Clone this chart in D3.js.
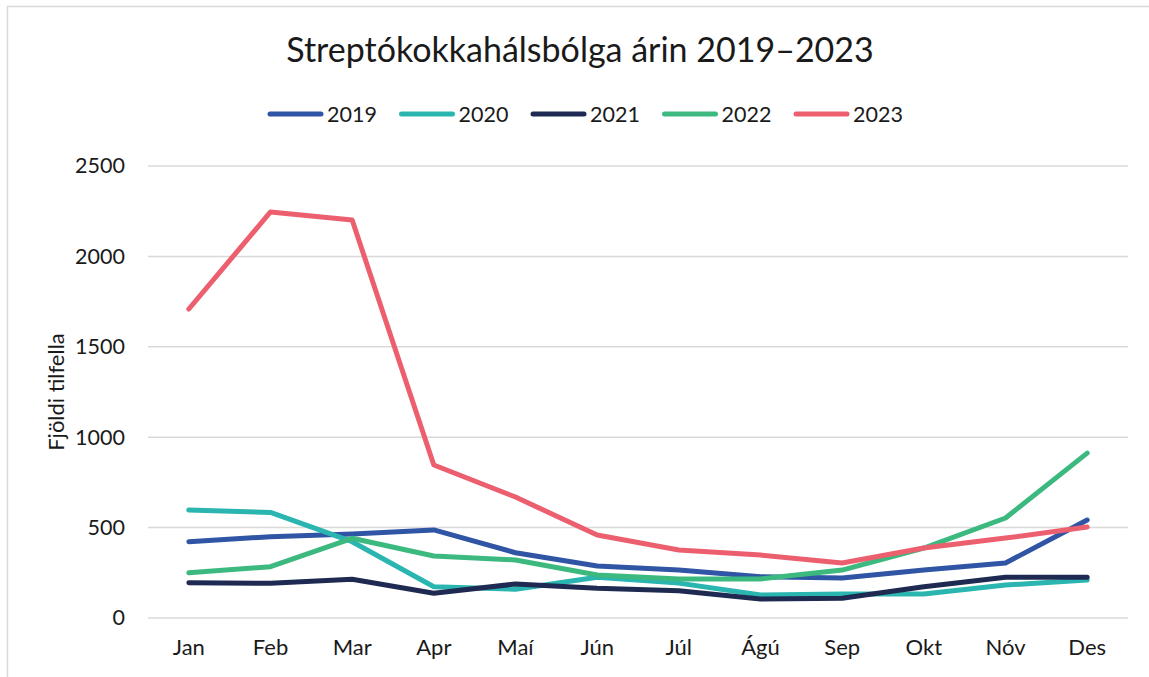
<!DOCTYPE html>
<html>
<head>
<meta charset="utf-8">
<script src="https://cdn.jsdelivr.net/npm/d3@7"></script>
<style>
  body { margin: 0; background: #fff; }
  svg { display: block; font-family: Lato, "Open Sans", sans-serif; }
</style>
</head>
<body>
<div id="chart"></div>
<script>
// Data
const months = ["Jan", "Feb", "Mar", "Apr", "Maí", "Jún", "Júl", "Ágú", "Sep", "Okt", "Nóv", "Des"];
const years = ["2019", "2020", "2021", "2022", "2023"];
const cases2019 = [422, 450, 465, 487, 361, 288, 265, 228, 221, 265, 304, 542];
const cases2020 = [597, 584, 422, 173, 159, 225, 193, 127, 133, 133, 182, 210];
const cases2021 = [195, 192, 214, 137, 188, 164, 151, 105, 109, 173, 225, 225];
const cases2022 = [250, 284, 441, 343, 321, 238, 216, 216, 265, 387, 553, 912];
const cases2023 = [1709, 2246, 2201, 846, 669, 459, 376, 348, 304, 387, 442, 503];
const yTicks = [0, 500, 1000, 1500, 2000, 2500];
const colors = ["#2f55a4", "#2ab5b0", "#1f2a52", "#3cb97f", "#ec5f6e"];

const series = [cases2019, cases2020, cases2021, cases2022, cases2023]
    .map((values, i) => ({ year: years[i], values: values, color: colors[i] }));

const W = 1149, H = 677;
const margin = { top: 166, right: 21, bottom: 59, left: 148 };
const width = W - margin.left - margin.right,
      height = H - margin.top - margin.bottom;
const fontFamily = "Lato, Open Sans, sans-serif";

const svg = d3.select("#chart")
    .append("svg")
    .attr("width", W)
    .attr("height", H);

// Chart frame
svg.append("rect")
    .attr("x", 7.5)
    .attr("y", 6.5)
    .attr("width", W + 10)
    .attr("height", H + 10)
    .attr("fill", "none")
    .attr("stroke", "#d9d9d9")
    .attr("stroke-width", 1.5);

// Title
svg.append("text")
    .attr("x", 580)
    .attr("y", 62)
    .attr("text-anchor", "middle")
    .attr("font-size", 34)
    .attr("fill", "#1a1a1a")
    .text("Streptókokkahálsbólga árin 2019–2023");

const g = svg.append("g")
    .attr("transform", `translate(${margin.left},${margin.top})`);

// Scales
const xScale = d3.scaleBand()
    .domain(months)
    .range([0, width]);

const yScale = d3.scaleLinear()
    .domain([0, 2500])
    .range([height, 0]);

// Gridlines
g.append("g")
    .selectAll("line")
    .data(yTicks)
    .join("line")
    .attr("x1", 0)
    .attr("x2", width)
    .attr("y1", d => yScale(d))
    .attr("y2", d => yScale(d))
    .attr("stroke", "#d9d9d9")
    .attr("stroke-width", 1.5);

// Y axis
const yAxis = g.append("g")
    .call(d3.axisLeft(yScale).tickValues(yTicks).tickFormat(d3.format("d")).tickSize(0).tickPadding(23));
yAxis.select(".domain").remove();
yAxis.selectAll("text")
    .attr("font-size", 21.5)
    .attr("font-family", fontFamily)
    .attr("fill", "#1a1a1a");

// X axis
const xAxis = g.append("g")
    .attr("transform", `translate(0,${height})`)
    .call(d3.axisBottom(xScale).tickSize(0).tickPadding(21));
xAxis.select(".domain").remove();
xAxis.selectAll("text")
    .attr("font-size", 22)
    .attr("font-family", fontFamily)
    .attr("fill", "#1a1a1a");

// Y axis label
svg.append("text")
    .attr("transform", "rotate(-90)")
    .attr("x", -392)
    .attr("y", 64)
    .attr("text-anchor", "middle")
    .attr("font-size", 22)
    .attr("fill", "#1a1a1a")
    .text("Fjöldi tilfella");

// Lines
const line = d3.line()
    .x((d, i) => xScale(months[i]) + xScale.bandwidth() / 2)
    .y(d => yScale(d));

g.selectAll(".series")
    .data(series)
    .join("path")
    .attr("class", "series")
    .attr("d", d => line(d.values))
    .attr("fill", "none")
    .attr("stroke", d => d.color)
    .attr("stroke-width", 5)
    .attr("stroke-linejoin", "round")
    .attr("stroke-linecap", "round");

// Legend
const legend = svg.append("g")
    .attr("transform", "translate(270,114)");

const item = legend.selectAll("g")
    .data(series)
    .join("g")
    .attr("transform", (d, i) => `translate(${i * 131.5},0)`);

item.append("line")
    .attr("x1", 0)
    .attr("x2", 51)
    .attr("stroke", d => d.color)
    .attr("stroke-width", 5)
    .attr("stroke-linecap", "round");

item.append("text")
    .attr("x", 57)
    .attr("y", 8)
    .attr("font-size", 21.5)
    .attr("fill", "#1a1a1a")
    .text(d => d.year);
</script>
</body>
</html>
